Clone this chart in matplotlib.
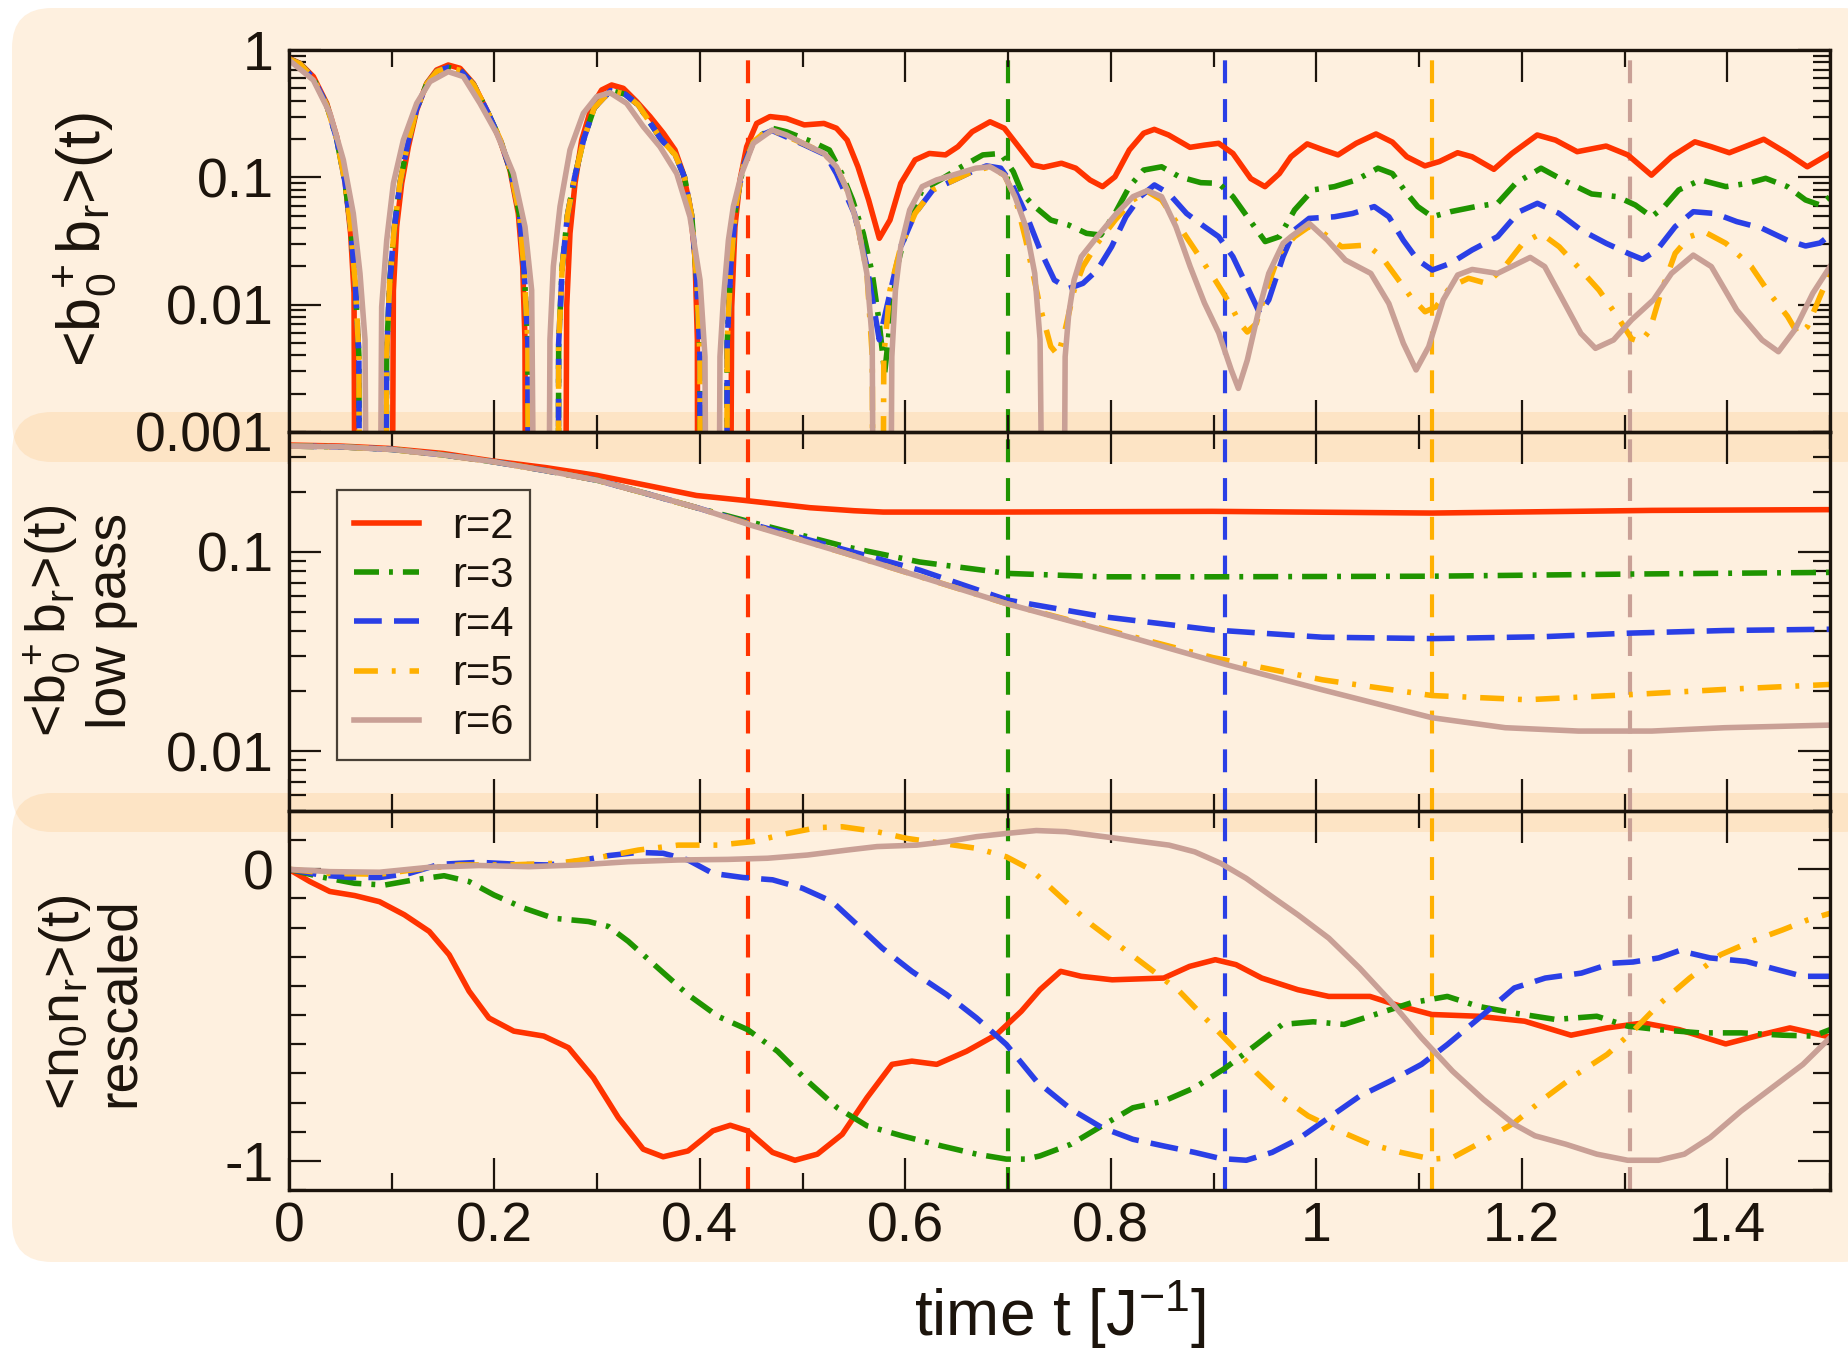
import matplotlib
matplotlib.use('Agg')
import matplotlib.pyplot as plt
from matplotlib.patches import FancyBboxPatch
from matplotlib.transforms import IdentityTransform
from matplotlib.ticker import LogLocator, MultipleLocator, FuncFormatter, NullFormatter

plt.rcParams['font.family'] = ['Liberation Sans', 'DejaVu Sans']
plt.rcParams['mathtext.fontset'] = 'custom'
plt.rcParams['mathtext.rm'] = 'Liberation Sans'
plt.rcParams['mathtext.default'] = 'regular'
plt.rcParams['axes.unicode_minus'] = False

# ---- data: (t, value) ----
LABELS = ['r=2', 'r=3', 'r=4', 'r=5', 'r=6']
T_MARK = [0.447, 0.700, 0.911, 1.113, 1.305]

# top panel |<b0+ br>(t)|, 1e-5 = dips below the axis
r2_top = [(0.0, 0.86), (0.0107, 0.785), (0.0237, 0.618), (0.0367, 0.381), (0.0464, 0.209), (0.0545, 0.095),
          (0.060, 0.036), (0.0633, 0.0123), (0.0646, 1e-5), (0.0999, 1e-5), (0.1016, 0.0129), (0.1048, 0.041),
          (0.1097, 0.0897), (0.1162, 0.174), (0.1243, 0.338), (0.134, 0.547), (0.1437, 0.697), (0.155, 0.762),
          (0.1665, 0.718), (0.1794, 0.547), (0.1924, 0.338), (0.2054, 0.196), (0.2151, 0.114), (0.2232, 0.052),
          (0.2275, 0.0199), (0.2297, 0.0053), (0.2305, 1e-5), (0.2687, 1e-5), (0.2703, 0.0096), (0.2735, 0.0363),
          (0.2784, 0.0897), (0.2849, 0.196), (0.2946, 0.359), (0.3043, 0.485), (0.3141, 0.531), (0.3254, 0.50),
          (0.3384, 0.393), (0.3514, 0.30), (0.3644, 0.222), (0.3757, 0.164), (0.3838, 0.107), (0.3903, 0.059),
          (0.3952, 0.0238), (0.3975, 0.0053), (0.398, 1e-5), (0.4293, 1e-5), (0.4309, 0.0096), (0.4341, 0.041),
          (0.439, 0.095), (0.4455, 0.174), (0.4552, 0.265), (0.4682, 0.300), (0.4842, 0.290), (0.5016, 0.258),
          (0.5207, 0.265), (0.5329, 0.243), (0.5433, 0.196), (0.5538, 0.121), (0.5642, 0.0664), (0.5746, 0.0332),
          (0.585, 0.0462), (0.5955, 0.0897), (0.6094, 0.137), (0.6233, 0.154), (0.639, 0.150), (0.6511, 0.174),
          (0.665, 0.228), (0.6824, 0.273), (0.6963, 0.243), (0.7102, 0.174), (0.7241, 0.125), (0.7345, 0.120),
          (0.7519, 0.129), (0.7658, 0.118), (0.7797, 0.0953), (0.7919, 0.0845), (0.804, 0.101), (0.818, 0.164),
          (0.8319, 0.222), (0.8423, 0.238), (0.8562, 0.215), (0.877, 0.172), (0.891, 0.179), (0.9049, 0.185),
          (0.9188, 0.154), (0.9362, 0.0977), (0.950, 0.0845), (0.964, 0.107), (0.9753, 0.145), (0.9911, 0.183),
          (1.007, 0.164), (1.0211, 0.150), (1.0388, 0.185), (1.0581, 0.219), (1.074, 0.189), (1.0881, 0.145),
          (1.1057, 0.123), (1.1198, 0.133), (1.1375, 0.156), (1.1516, 0.145), (1.1728, 0.1156), (1.1904, 0.154),
          (1.215, 0.215), (1.2328, 0.196), (1.2539, 0.159), (1.2821, 0.176), (1.3032, 0.150), (1.3262, 0.104),
          (1.3456, 0.145), (1.3685, 0.190), (1.3844, 0.174), (1.402, 0.156), (1.4355, 0.199), (1.4585, 0.154),
          (1.4779, 0.121), (1.5, 0.154)]

early_top = [(0.0, 0.85), (0.0107, 0.78), (0.0237, 0.60), (0.0367, 0.37), (0.0464, 0.20), (0.0545, 0.092),
             (0.060, 0.040), (0.0645, 0.015), (0.068, 0.004), (0.069, 1e-5), (0.094, 1e-5), (0.095, 0.004),
             (0.098, 0.015), (0.1025, 0.040), (0.108, 0.090), (0.115, 0.175), (0.124, 0.34), (0.134, 0.54),
             (0.144, 0.68), (0.155, 0.73), (0.167, 0.69), (0.180, 0.53), (0.193, 0.33), (0.2054, 0.20),
             (0.216, 0.11), (0.2245, 0.050), (0.229, 0.018), (0.2325, 0.005), (0.233, 1e-5), (0.262, 1e-5),
             (0.2625, 0.005), (0.266, 0.020), (0.271, 0.050), (0.278, 0.10), (0.287, 0.20), (0.297, 0.35),
             (0.313, 0.48), (0.327, 0.45), (0.340, 0.37), (0.350, 0.28), (0.362, 0.20), (0.376, 0.15),
             (0.385, 0.10), (0.392, 0.050), (0.397, 0.015), (0.400, 0.004), (0.4007, 1e-5), (0.426, 1e-5),
             (0.4265, 0.005), (0.430, 0.020), (0.435, 0.060), (0.442, 0.12), (0.452, 0.19), (0.4599, 0.215)]

r3_top = early_top + [
    (0.4703, 0.243), (0.4842, 0.228), (0.5086, 0.191), (0.526, 0.164), (0.5381, 0.107), (0.5486, 0.0664),
    (0.559, 0.0363), (0.5677, 0.0176), (0.5746, 0.00713), (0.5798, 0.00289), (0.585, 0.00713), (0.592, 0.0199),
    (0.6024, 0.0435), (0.6163, 0.0796), (0.6337, 0.0953), (0.6546, 0.121), (0.6754, 0.150), (0.6928, 0.154),
    (0.705, 0.111), (0.7137, 0.0748), (0.7241, 0.0606), (0.7415, 0.0462), (0.7589, 0.0422), (0.7763, 0.0363),
    (0.7902, 0.0352), (0.804, 0.0521), (0.818, 0.0845), (0.8319, 0.114), (0.8494, 0.121), (0.8667, 0.101),
    (0.8876, 0.0908), (0.9049, 0.0897), (0.9188, 0.0705), (0.9328, 0.049), (0.9502, 0.0313), (0.9641, 0.0342),
    (0.9788, 0.0554), (0.9964, 0.0796), (1.0176, 0.0845), (1.0388, 0.0953), (1.06, 0.118), (1.074, 0.107),
    (1.0881, 0.0748), (1.0987, 0.0589), (1.1128, 0.049), (1.1305, 0.0537), (1.1552, 0.0589), (1.1764, 0.0625),
    (1.194, 0.0897), (1.2187, 0.118), (1.2399, 0.0953), (1.268, 0.074), (1.2929, 0.0705), (1.3105, 0.0606),
    (1.3264, 0.049), (1.3387, 0.0589), (1.3528, 0.0796), (1.374, 0.0953), (1.3987, 0.0845), (1.4198, 0.0897),
    (1.4374, 0.0982), (1.4586, 0.0845), (1.4762, 0.0664), (1.4903, 0.0606), (1.5, 0.0705)]

r4_top = early_top + [
    (0.4703, 0.233), (0.5016, 0.18), (0.5225, 0.15), (0.5329, 0.107), (0.5503, 0.052), (0.5625, 0.02),
    (0.5746, 0.0053), (0.585, 0.0123), (0.5955, 0.0285), (0.6094, 0.052), (0.6267, 0.0796), (0.6476, 0.0953),
    (0.665, 0.111), (0.6789, 0.123), (0.6928, 0.118), (0.7033, 0.0897), (0.7172, 0.052), (0.7311, 0.0269),
    (0.745, 0.0156), (0.7589, 0.0134), (0.7728, 0.0147), (0.7868, 0.0187), (0.8007, 0.0285), (0.8146, 0.049),
    (0.8285, 0.0705), (0.8424, 0.0871), (0.8563, 0.0748), (0.8737, 0.052), (0.891, 0.041), (0.9049, 0.0342),
    (0.9188, 0.0238), (0.9328, 0.0138), (0.945, 0.0085), (0.9537, 0.0109), (0.9676, 0.0238), (0.9788, 0.0386),
    (0.993, 0.0476), (1.0176, 0.049), (1.0353, 0.052), (1.0564, 0.0589), (1.0706, 0.049), (1.0847, 0.032),
    (1.0987, 0.0224), (1.1128, 0.0187), (1.1305, 0.0211), (1.1517, 0.0269), (1.1764, 0.0342), (1.1975, 0.0537),
    (1.2152, 0.0625), (1.2364, 0.052), (1.2575, 0.0386), (1.2822, 0.0303), (1.3034, 0.0253), (1.3175, 0.0227),
    (1.3316, 0.0269), (1.3493, 0.041), (1.3669, 0.0537), (1.3881, 0.052), (1.4092, 0.0449), (1.4339, 0.0398),
    (1.4586, 0.032), (1.4762, 0.0289), (1.4903, 0.0305), (1.5, 0.0352)]

r5_top = early_top + [
    (0.4703, 0.235), (0.5016, 0.183), (0.5207, 0.154), (0.5329, 0.121), (0.5433, 0.0796), (0.5538, 0.041),
    (0.5625, 0.018), (0.5677, 0.004), (0.569, 1e-5), (0.5775, 1e-5), (0.579, 0.004), (0.585, 0.013),
    (0.5955, 0.0285), (0.6094, 0.052), (0.6267, 0.0796), (0.6476, 0.0953), (0.665, 0.111), (0.6824, 0.121),
    (0.6963, 0.104), (0.7067, 0.0705), (0.7172, 0.0322), (0.7311, 0.0096), (0.7415, 0.0047), (0.7485, 0.004),
    (0.7554, 0.0063), (0.7642, 0.013), (0.7728, 0.0199), (0.7868, 0.0303), (0.8042, 0.0462), (0.8216, 0.0664),
    (0.8355, 0.0774), (0.8494, 0.0664), (0.8667, 0.041), (0.8841, 0.0253), (0.9015, 0.0156), (0.9154, 0.0103),
    (0.9258, 0.0071), (0.9328, 0.0061), (0.9415, 0.0071), (0.9502, 0.0123), (0.9641, 0.0253), (0.9788, 0.0342),
    (0.993, 0.041), (1.007, 0.0363), (1.0247, 0.0285), (1.0494, 0.0294), (1.0635, 0.0238), (1.0776, 0.0166),
    (1.0917, 0.0116), (1.1058, 0.0088), (1.1164, 0.0096), (1.1305, 0.0138), (1.1481, 0.0161), (1.1658, 0.0147),
    (1.1834, 0.0199), (1.201, 0.0303), (1.2187, 0.0363), (1.2364, 0.0285), (1.2575, 0.0187), (1.2752, 0.013),
    (1.2929, 0.0081), (1.3069, 0.0054), (1.3158, 0.0051), (1.3246, 0.0063), (1.3352, 0.0123), (1.3493, 0.0253),
    (1.3634, 0.0342), (1.3775, 0.0374), (1.3987, 0.0303), (1.4234, 0.0199), (1.441, 0.0123), (1.4586, 0.0081),
    (1.4692, 0.0058), (1.478, 0.0067), (1.4903, 0.0116), (1.5, 0.0176)]

r6_top = [(0.0, 0.834), (0.0237, 0.58), (0.0399, 0.318), (0.0529, 0.137), (0.0626, 0.052), (0.0691, 0.0176),
          (0.074, 0.0053), (0.0762, 1e-5), (0.0879, 1e-5), (0.0902, 0.0096), (0.0951, 0.032), (0.1016, 0.0897),
          (0.1113, 0.196), (0.1243, 0.381), (0.1372, 0.564), (0.155, 0.676), (0.1697, 0.618), (0.1859, 0.381),
          (0.2021, 0.222), (0.2184, 0.107), (0.2297, 0.041), (0.2362, 0.013), (0.2395, 1e-5), (0.2524, 1e-5),
          (0.254, 0.0053), (0.2573, 0.02), (0.2638, 0.059), (0.2735, 0.164), (0.2865, 0.318), (0.2995, 0.43),
          (0.3125, 0.462), (0.3287, 0.381), (0.3449, 0.25), (0.3611, 0.174), (0.3774, 0.107), (0.3903, 0.049),
          (0.4001, 0.0156), (0.4049, 0.0039), (0.4066, 1e-5), (0.418, 1e-5), (0.4195, 0.0039), (0.4228, 0.0109),
          (0.4277, 0.032), (0.4325, 0.059), (0.4406, 0.107), (0.452, 0.185), (0.4703, 0.235), (0.4842, 0.215),
          (0.5016, 0.183), (0.5207, 0.154), (0.5329, 0.121), (0.5433, 0.0796), (0.5538, 0.041), (0.5625, 0.0176),
          (0.5677, 0.0053), (0.5694, 1e-5), (0.585, 1e-5), (0.5868, 0.0039), (0.5903, 0.013), (0.5955, 0.0285),
          (0.6042, 0.0554), (0.6163, 0.0845), (0.6302, 0.0953), (0.6511, 0.107), (0.6685, 0.118), (0.6824, 0.121),
          (0.6963, 0.104), (0.7067, 0.0705), (0.7172, 0.041), (0.7259, 0.0176), (0.7311, 0.0053), (0.7346, 1e-5),
          (0.7537, 1e-5), (0.7555, 0.0039), (0.759, 0.0085), (0.7642, 0.0156), (0.7712, 0.0238), (0.7868, 0.0342),
          (0.8042, 0.0506), (0.8216, 0.0705), (0.8355, 0.0786), (0.8494, 0.0705), (0.8633, 0.041), (0.8772, 0.0199),
          (0.8911, 0.0103), (0.905, 0.006), (0.9172, 0.00307), (0.9241, 0.0022), (0.9328, 0.00367), (0.9432, 0.0085),
          (0.9537, 0.0176), (0.9676, 0.0303), (0.9753, 0.0342), (0.993, 0.0435), (1.0106, 0.0322), (1.0283, 0.0224),
          (1.053, 0.0176), (1.0706, 0.0102), (1.0847, 0.00497), (1.0971, 0.00307), (1.1094, 0.00468), (1.1235, 0.0109),
          (1.1376, 0.0171), (1.1517, 0.0189), (1.1764, 0.0176), (1.2082, 0.0235), (1.2223, 0.0199), (1.2399, 0.0109),
          (1.2575, 0.00595), (1.2717, 0.00454), (1.2893, 0.00528), (1.3069, 0.0076), (1.3281, 0.0109), (1.3457, 0.0176),
          (1.3669, 0.0245), (1.3845, 0.0199), (1.4092, 0.00908), (1.4339, 0.00528), (1.4498, 0.00427), (1.4656, 0.00632),
          (1.4833, 0.0123), (1.5, 0.0199)]

# middle panel: low pass
r2_lp = [(0.0, 0.344), (0.05, 0.340), (0.0967, 0.331), (0.15, 0.312), (0.1966, 0.287), (0.25, 0.265), (0.30, 0.242),
         (0.35, 0.215), (0.3966, 0.192), (0.4428, 0.1815), (0.5072, 0.1667), (0.55, 0.161), (0.5783, 0.1585),
         (0.6851, 0.1585), (0.8989, 0.1598), (1.1127, 0.1567), (1.3265, 0.1616), (1.5, 0.163)]
early_lp = [(0.0, 0.340), (0.05, 0.337), (0.10, 0.327), (0.15, 0.307), (0.20, 0.283), (0.25, 0.256), (0.30, 0.229),
            (0.35, 0.195), (0.40, 0.165)]
r3_lp = early_lp + [(0.45, 0.141), (0.5426, 0.106), (0.6139, 0.089), (0.6994, 0.078), (0.7921, 0.075), (0.8989, 0.075),
                    (1.1127, 0.0755), (1.3051, 0.0774), (1.5, 0.0789)]
r4_lp = early_lp + [(0.45, 0.138), (0.5426, 0.102), (0.6139, 0.081), (0.6994, 0.0573), (0.7921, 0.0473),
                    (0.8989, 0.0406), (1.0058, 0.0373), (1.1127, 0.0367), (1.2196, 0.0375), (1.3051, 0.0391),
                    (1.3977, 0.0403), (1.5, 0.0409)]
r5_lp = early_lp + [(0.45, 0.137), (0.5426, 0.098), (0.6994, 0.0548), (0.8277, 0.0368), (0.8989, 0.0295),
                    (1.0058, 0.0228), (1.1127, 0.019), (1.2053, 0.0181), (1.3051, 0.0192), (1.3977, 0.0204),
                    (1.5, 0.0216)]
r6_lp = early_lp + [(0.45, 0.136), (0.5426, 0.098), (0.6994, 0.0548), (0.8277, 0.0362), (0.9132, 0.0271),
                    (1.0058, 0.0203), (1.1127, 0.0147), (1.1839, 0.0131), (1.2552, 0.0126), (1.3265, 0.0126),
                    (1.3977, 0.0131), (1.5, 0.0135)]

# bottom panel: <n0 nr>(t) rescaled
r2_nn = [(0.0, 0.0), (0.0203, -0.042), (0.0397, -0.076), (0.0639, -0.090), (0.0881, -0.111), (0.1123, -0.156),
         (0.1365, -0.213), (0.1559, -0.293), (0.1753, -0.418), (0.1946, -0.510), (0.2188, -0.555), (0.248, -0.572),
         (0.2721, -0.612), (0.2963, -0.715), (0.3206, -0.852), (0.3448, -0.960), (0.3642, -0.986), (0.3884, -0.966),
         (0.4126, -0.897), (0.4295, -0.878), (0.4465, -0.897), (0.4707, -0.971), (0.4925, -0.998), (0.5143, -0.977),
         (0.5385, -0.909), (0.5627, -0.783), (0.587, -0.669), (0.6063, -0.658), (0.6305, -0.669), (0.6596, -0.624),
         (0.6886, -0.567), (0.7128, -0.487), (0.731, -0.413), (0.7511, -0.350), (0.7712, -0.367), (0.8013, -0.379),
         (0.8515, -0.373), (0.8766, -0.333), (0.9017, -0.310), (0.9218, -0.327), (0.9469, -0.373), (0.982, -0.413),
         (1.0121, -0.436), (1.0522, -0.436), (1.0823, -0.470), (1.1124, -0.498), (1.1576, -0.504), (1.2028, -0.521),
         (1.2479, -0.569), (1.283, -0.544), (1.3182, -0.527), (1.3533, -0.550), (1.3985, -0.599), (1.4336, -0.567),
         (1.461, -0.544), (1.5, -0.575)]
r3_nn = [(0.0, 0.0), (0.0299, -0.025), (0.0639, -0.048), (0.093, -0.054), (0.122, -0.036), (0.151, -0.022),
         (0.1753, -0.042), (0.1995, -0.088), (0.2286, -0.133), (0.2576, -0.168), (0.2915, -0.179), (0.3109, -0.196),
         (0.3302, -0.247), (0.3593, -0.339), (0.3884, -0.430), (0.4174, -0.504), (0.4465, -0.550), (0.4755, -0.624),
         (0.5046, -0.726), (0.5337, -0.818), (0.5627, -0.880), (0.5966, -0.914), (0.6354, -0.949), (0.6693, -0.977),
         (0.6983, -0.994), (0.7177, -0.994), (0.731, -0.983), (0.7612, -0.943), (0.7913, -0.880), (0.8214, -0.818),
         (0.8515, -0.795), (0.8816, -0.749), (0.9117, -0.681), (0.9418, -0.601), (0.9669, -0.532), (0.997, -0.523),
         (1.0271, -0.532), (1.0572, -0.498), (1.0924, -0.458), (1.1275, -0.436), (1.1576, -0.470), (1.1927, -0.493),
         (1.2329, -0.515), (1.273, -0.504), (1.3031, -0.538), (1.3332, -0.550), (1.3734, -0.561), (1.4135, -0.561),
         (1.4537, -0.569), (1.4838, -0.572), (1.5, -0.550)]
r4_nn = [(0.0, 0.0), (0.0299, -0.019), (0.059, -0.028), (0.0881, -0.028), (0.1171, -0.014), (0.1462, 0.017),
         (0.185, 0.024), (0.2237, 0.017), (0.2528, 0.015), (0.2818, 0.0285), (0.3109, 0.047), (0.34, 0.058),
         (0.3642, 0.055), (0.3884, 0.032), (0.4126, -0.014), (0.4417, -0.028), (0.4707, -0.036), (0.4998, -0.065),
         (0.5288, -0.111), (0.553, -0.190), (0.5773, -0.270), (0.6063, -0.350), (0.6402, -0.430), (0.6693, -0.510),
         (0.6983, -0.601), (0.7274, -0.726), (0.7612, -0.823), (0.7913, -0.886), (0.8214, -0.926), (0.8515, -0.949),
         (0.8816, -0.971), (0.9067, -0.992), (0.9318, -0.998), (0.9569, -0.971), (0.982, -0.926), (1.0121, -0.852),
         (1.0422, -0.778), (1.0723, -0.726), (1.1024, -0.669), (1.1275, -0.601), (1.1626, -0.498), (1.1927, -0.407),
         (1.2228, -0.373), (1.258, -0.356), (1.2881, -0.322), (1.3082, -0.318), (1.3332, -0.304), (1.3533, -0.279),
         (1.3834, -0.304), (1.4185, -0.316), (1.4486, -0.344), (1.4737, -0.367), (1.5, -0.367)]
r5_nn = [(0.0, 0.0), (0.0397, -0.014), (0.0881, -0.017), (0.1268, 0.001), (0.1656, 0.015), (0.214, 0.015),
         (0.2625, 0.021), (0.3012, 0.040), (0.34, 0.066), (0.3787, 0.083), (0.4174, 0.083), (0.4513, 0.095),
         (0.4852, 0.123), (0.5143, 0.143), (0.5385, 0.146), (0.5724, 0.129), (0.6015, 0.106), (0.6354, 0.089),
         (0.6693, 0.072), (0.6983, 0.043), (0.7225, -0.002), (0.7562, -0.111), (0.7813, -0.190), (0.8114, -0.270),
         (0.8415, -0.350), (0.8666, -0.418), (0.8917, -0.510), (0.9168, -0.601), (0.9419, -0.698), (0.967, -0.783),
         (0.9921, -0.846), (1.0222, -0.897), (1.0523, -0.943), (1.0824, -0.971), (1.1125, -0.994), (1.1326, -0.989),
         (1.1627, -0.932), (1.1928, -0.869), (1.2229, -0.783), (1.253, -0.704), (1.2831, -0.635), (1.3082, -0.555),
         (1.3333, -0.464), (1.3634, -0.373), (1.3935, -0.293), (1.4236, -0.247), (1.4537, -0.208), (1.4788, -0.173),
         (1.5, -0.151)]
r6_nn = [(0.0, 0.0), (0.0397, -0.008), (0.0881, -0.010), (0.1365, 0.007), (0.185, 0.013), (0.2334, 0.009),
         (0.2818, 0.015), (0.3302, 0.026), (0.3787, 0.032), (0.4271, 0.034), (0.4658, 0.038), (0.5046, 0.049),
         (0.5433, 0.066), (0.5724, 0.078), (0.6112, 0.083), (0.6402, 0.095), (0.6693, 0.112), (0.6983, 0.123),
         (0.7274, 0.133), (0.7562, 0.129), (0.8064, 0.106), (0.8566, 0.083), (0.8816, 0.060), (0.9067, 0.021),
         (0.9318, -0.031), (0.9569, -0.094), (0.982, -0.156), (1.0121, -0.236), (1.0422, -0.339), (1.0723, -0.453),
         (1.1024, -0.578), (1.1325, -0.692), (1.1626, -0.789), (1.1927, -0.875), (1.2128, -0.914), (1.2429, -0.943),
         (1.273, -0.977), (1.3031, -0.998), (1.3332, -0.998), (1.3583, -0.977), (1.3834, -0.920), (1.4135, -0.829),
         (1.4436, -0.749), (1.4737, -0.669), (1.5, -0.578)]

# ---- styles ----
COLORS = ['#ff3300', '#1f9400', '#2a3fe6', '#ffb000', '#c9a096']
DASHES = [None, (4.5, 1.8, 0.7, 1.8), (5.0, 2.2), (4.3, 2.5, 0.7, 2.5), None]
INK = '#1c140c'
LW = 4.0

fig = plt.figure(figsize=(18.48, 13.54), dpi=100)

# rounded peach boxes behind the panels (pixel coords: x0, y0 from bottom, w, h)
for (x0, y0, w, h) in [(12, 892, 1870, 454), (12, 522, 1870, 420), (12, 92, 1870, 469)]:
    box = FancyBboxPatch((x0, y0), w, h, boxstyle='round,pad=0,rounding_size=40',
                         transform=IdentityTransform(), facecolor=(250/255, 180/255, 95/255),
                         alpha=0.2, edgecolor='none', zorder=-10)
    fig.add_artist(box)

L, W = 289/1848, 1541/1848
ax_top = fig.add_axes([L, 0.68095, W, 0.28213])
ax_mid = fig.add_axes([L, 0.40103, W, 0.27991])
ax_bot = fig.add_axes([L, 0.12112, W, 0.27991])

fmt = FuncFormatter(lambda v, p: f'{v:g}')

for ax in (ax_top, ax_mid, ax_bot):
    ax.set_facecolor('none')
    ax.set_xlim(0, 1.5)
    ax.xaxis.set_major_locator(MultipleLocator(0.2))
    ax.xaxis.set_minor_locator(MultipleLocator(0.1))
    ax.xaxis.set_major_formatter(fmt)
    for s in ax.spines.values():
        s.set_linewidth(2.4)
        s.set_color(INK)
    ax.tick_params(which='both', direction='in', top=True, right=True, colors=INK,
                   labelsize=40, width=1.6, pad=11)
    ax.tick_params(which='major', length=23)
    ax.tick_params(which='minor', length=12)
    for xm, c in zip(T_MARK, COLORS):
        ax.axvline(xm, color=c, lw=3.0, dashes=(5.5, 3.8), zorder=1.5)

ax_top.tick_params(axis='x', labelbottom=False)
ax_mid.tick_params(axis='x', labelbottom=False)
ax_bot.tick_params(axis='x', pad=8)

for ax, lo, hi in ((ax_top, 0.001, 1.0), (ax_mid, 0.005, 0.4)):
    ax.set_yscale('log')
    ax.set_ylim(lo, hi)
    ax.yaxis.set_major_locator(LogLocator(base=10))
    ax.yaxis.set_minor_locator(LogLocator(base=10, subs=[2, 3, 4, 5, 6, 7, 8, 9]))
    ax.yaxis.set_major_formatter(fmt)
    ax.yaxis.set_minor_formatter(NullFormatter())

ax_bot.set_ylim(-1.1, 0.2)
ax_bot.set_yticks([-1, 0])
ax_bot.yaxis.set_minor_locator(MultipleLocator(0.1))
ax_bot.yaxis.set_major_formatter(fmt)

panels = [(ax_top, [r2_top, r3_top, r4_top, r5_top, r6_top]),
          (ax_mid, [r2_lp, r3_lp, r4_lp, r5_lp, r6_lp]),
          (ax_bot, [r2_nn, r3_nn, r4_nn, r5_nn, r6_nn])]
for ax, series in panels:
    for pts, c, d, lab in zip(series, COLORS, DASHES, LABELS):
        t, v = zip(*pts)
        ln, = ax.plot(t, v, color=c, lw=LW, label=lab, zorder=2,
                      solid_joinstyle='round', dash_joinstyle='round')
        if d is not None:
            ln.set_dashes(d)

leg = ax_mid.legend(loc='upper left', bbox_to_anchor=(0.0311, 0.847), borderaxespad=0,
                    fontsize=30, handlelength=1.56, handletextpad=0.8, labelspacing=0.22,
                    borderpad=0.4, fancybox=False, frameon=True)
leg.get_frame().set_facecolor('none')
leg.get_frame().set_edgecolor(INK)
leg.get_frame().set_linewidth(1.6)
for txt in leg.get_texts():
    txt.set_color(INK)

# axis titles
H = 1354.0
fig.text(85/1848, 1 - 239/H, r'<b$_0^+$b$_r$>(t)', rotation=90, ha='center', va='center',
         fontsize=44, color=INK)
fig.text(52/1848, 1 - 621/H, r'<b$_0^+$b$_r$>(t)', rotation=90, ha='center', va='center',
         fontsize=40, color=INK)
fig.text(112/1848, 1 - 621/H, 'low pass', rotation=90, ha='center', va='center', fontsize=40, color=INK)
fig.text(65/1848, 1 - 1002/H, r'<n$_0$n$_r$>(t)', rotation=90, ha='center', va='center',
         fontsize=40, color=INK)
fig.text(120/1848, 1 - 1002/H, 'rescaled', rotation=90, ha='center', va='center', fontsize=40, color=INK)
fig.text(1059.5/1848, 1 - 1336/H, r'time t [J$^{-1}$]', ha='center', va='baseline', fontsize=46, color=INK)

fig.savefig('out.png', dpi=100)
